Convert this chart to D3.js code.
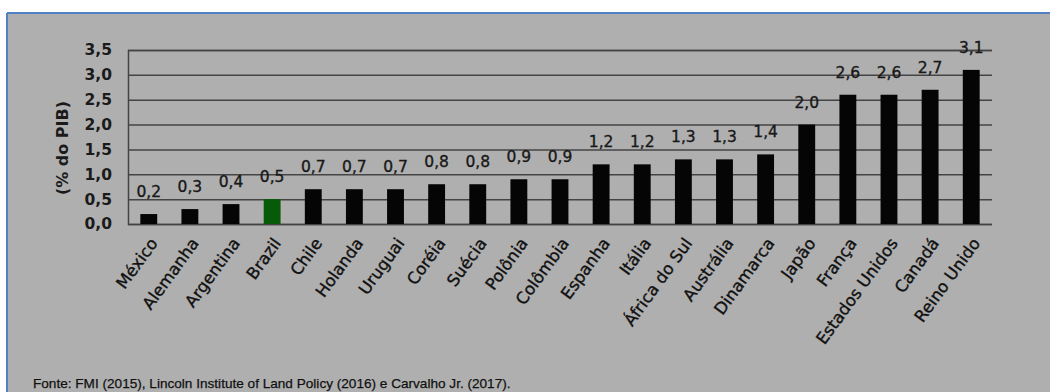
<!DOCTYPE html>
<html>
<head>
<meta charset="utf-8">
<script src="https://cdn.jsdelivr.net/npm/d3@7"></script>
<style>
  html, body { margin: 0; padding: 0; background: #ffffff; }
  svg { display: block; }
</style>
</head>
<body>
<svg id="chart" width="1050" height="392"></svg>
<script>
// Property tax revenue as a share of GDP, by country
const countries = ["México", "Alemanha", "Argentina", "Brazil", "Chile", "Holanda", "Uruguai",
  "Coréia", "Suécia", "Polônia", "Colômbia", "Espanha", "Itália", "África do Sul", "Austrália",
  "Dinamarca", "Japão", "França", "Estados Unidos", "Canadá", "Reino Unido"];
const values = [0.2, 0.3, 0.4, 0.5, 0.7, 0.7, 0.7, 0.8, 0.8, 0.9, 0.9, 1.2, 1.2, 1.3, 1.3,
  1.4, 2.0, 2.6, 2.6, 2.7, 3.1];
const yTicks = [0, 0.5, 1.0, 1.5, 2.0, 2.5, 3.0, 3.5];
const highlight = "Brazil";
const yTitle = "(% do PIB)";
const source = "Fonte: FMI (2015), Lincoln Institute of Land Policy (2016) e Carvalho Jr. (2017).";

const data = countries.map((c, i) => ({ country: c, value: values[i] }));
const fmt = v => d3.format(".1f")(v).replace(".", ",");

const svg = d3.select("#chart");
const W = 1050, H = 392;

// panel background with blue top/left rule
svg.append("rect").attr("x", 7).attr("y", 13).attr("width", W - 7).attr("height", H - 13)
  .attr("fill", "#afafaf");
svg.append("line").attr("x1", 7).attr("x2", W).attr("y1", 13).attr("y2", 13)
  .attr("stroke", "#4f81c4").attr("stroke-width", 2);
svg.append("line").attr("x1", 7).attr("x2", 7).attr("y1", 13).attr("y2", H)
  .attr("stroke", "#4f81c4").attr("stroke-width", 2);

const plot = { left: 128, right: 992, top: 50, bottom: 224 };

const x = d3.scaleBand().domain(countries)
  .range([plot.left, plot.right]).paddingInner(0.59).paddingOuter(0.3);
const y = d3.scaleLinear().domain([0, 3.5]).range([plot.bottom, plot.top]);

// horizontal gridlines + y axis labels
const yAxis = d3.axisLeft(y).tickValues(yTicks).tickFormat(fmt)
  .tickSize(-(plot.right - plot.left)).tickPadding(16);
const gy = svg.append("g").attr("transform", `translate(${plot.left},0)`).call(yAxis);
gy.select(".domain").attr("stroke", "#444").attr("stroke-width", 1.5);
gy.selectAll(".tick line").attr("stroke", "#444").attr("stroke-width", 1.5);
gy.selectAll(".tick text")
  .attr("fill", "#1a1a1a")
  .style("font-family", "'DejaVu Sans', sans-serif")
  .style("font-weight", "bold")
  .style("font-size", "15.5px");

// y axis title
svg.append("text")
  .attr("transform", `translate(68,148) rotate(-90)`)
  .attr("text-anchor", "middle")
  .attr("fill", "#1a1a1a")
  .style("font-family", "'DejaVu Sans', sans-serif")
  .style("font-weight", "bold")
  .style("font-size", "16px")
  .text(yTitle);

// bars
svg.append("g").selectAll("rect").data(data).join("rect")
  .attr("x", d => x(d.country))
  .attr("y", d => y(d.value))
  .attr("width", x.bandwidth())
  .attr("height", d => y(0) - y(d.value))
  .attr("fill", d => d.country === highlight ? "#075a07" : "#050505");

// value labels
svg.append("g").selectAll("text").data(data).join("text")
  .attr("x", d => x(d.country) + x.bandwidth() / 2)
  .attr("y", d => y(d.value) - 17)
  .attr("text-anchor", "middle")
  .attr("fill", "#181818")
  .attr("stroke", "#181818").attr("stroke-width", 0.35)
  .style("font-family", "'DejaVu Sans', sans-serif")
  .style("font-size", "15.5px")
  .text(d => fmt(d.value));

// category labels, rotated
svg.append("g").selectAll("text").data(data).join("text")
  .attr("transform", d => `translate(${x(d.country) + x.bandwidth() / 2 + 5},${plot.bottom + 16}) rotate(-54)`)
  .attr("text-anchor", "end")
  .attr("dy", "0.35em")
  .attr("fill", "#111")
  .attr("stroke", "#111").attr("stroke-width", 0.35)
  .style("font-family", "'DejaVu Sans', sans-serif")
  .style("font-size", "16.5px")
  .text(d => d.country);

// source note
svg.append("text")
  .attr("x", 33).attr("y", 388)
  .attr("fill", "#111")
  .attr("stroke", "#111").attr("stroke-width", 0.25)
  .style("font-family", "'Liberation Sans Narrow', 'Liberation Sans', sans-serif")
  .style("font-size", "13.6px")
  .text(source);
</script>
</body>
</html>
